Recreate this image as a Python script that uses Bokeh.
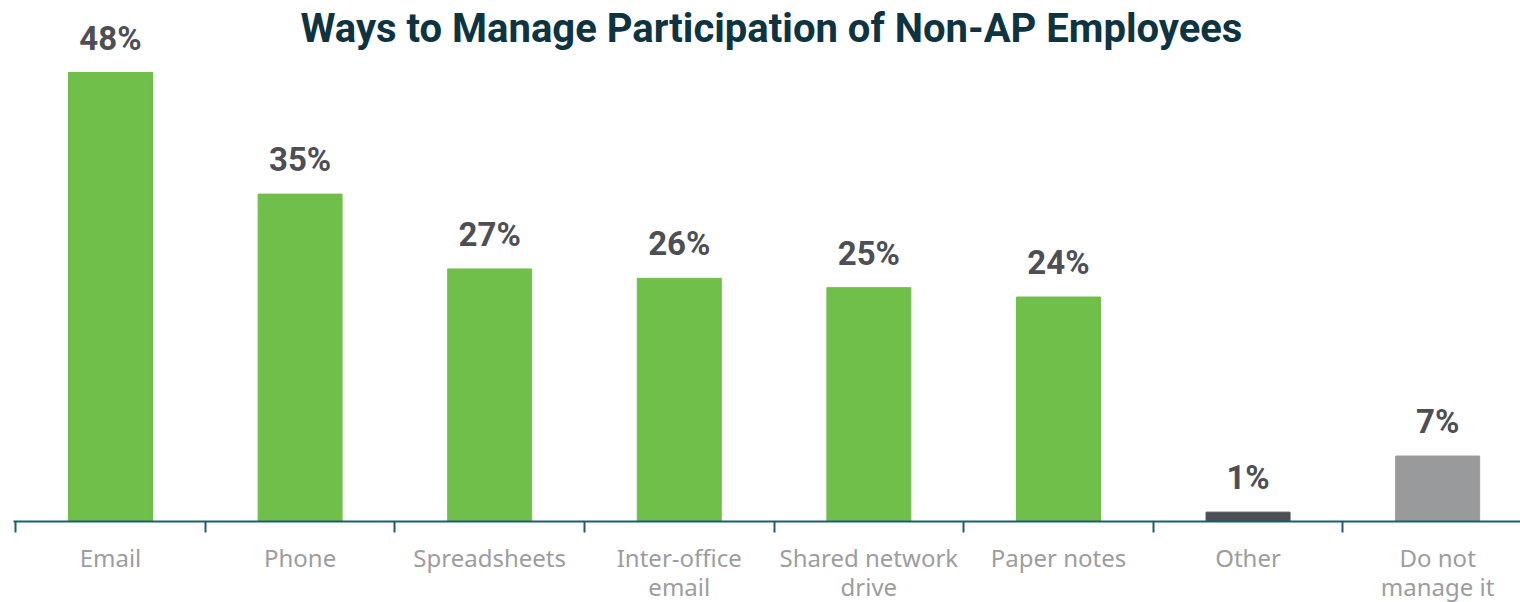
from bokeh.plotting import figure
from bokeh.models import ColumnDataSource, Range1d, FixedTicker, Label, LinearAxis
from bokeh.core.properties import value
from bokeh.embed import file_html
from bokeh.resources import INLINE

categories = ["Email", "Phone", "Spreadsheets", "Inter-office\nemail", "Shared network\ndrive",
              "Paper notes", "Other", "Do not\nmanage it"]
values = [48, 35, 27, 26, 25, 24, 1, 7]
colors = ["#70bf4a"] * 6 + ["#4d4f55", "#999a9c"]
labels = [f"{v}%" for v in values]

xs = [i + 0.5 for i in range(len(categories))]
src = ColumnDataSource(dict(x=xs, top=values, color=colors, label=labels))

p = figure(frame_width=1507, frame_height=521, output_backend="svg", toolbar_location=None,
           x_range=Range1d(-0.0116, 7.937), y_range=Range1d(0, 55.70),
           x_axis_type=None, y_axis_type=None,
           min_border_left=13, min_border_right=0, min_border_top=0, min_border_bottom=60)
p.outline_line_color = None
p.xgrid.visible = False
p.ygrid.visible = False
p.background_fill_color = "white"

p.vbar(x="x", top="top", bottom=0, width=0.443, color="color", source=src)
p.text(x="x", y="top", text="label", source=src, text_align="center", text_baseline="bottom",
       y_offset=-15, text_font=value("Roboto"), text_font_style="bold", text_font_size="33px",
       text_color="#4d4f55")

ax = LinearAxis(ticker=FixedTicker(ticks=xs, minor_ticks=list(range(len(categories) + 1))))
ax.major_label_overrides = {x: c for x, c in zip(xs, categories)}
ax.axis_line_color = "#1b5e70"
ax.axis_line_width = 2
ax.major_tick_line_color = None
ax.minor_tick_line_color = "#1b5e70"
ax.minor_tick_line_width = 2
ax.minor_tick_out = 11
ax.minor_tick_in = 0
ax.major_label_standoff = 8
ax.major_label_text_font = "Noto Sans"
ax.major_label_text_font_size = "24px"
ax.major_label_text_color = "#9d9d9d"
ax.major_label_text_line_height = 0.88
p.add_layout(ax, "below")

title = Label(x=3.986, y=52.7, text="Ways to Manage Participation of Non-AP Employees",
              text_align="center", text_baseline="middle", text_font="Roboto",
              text_font_style="bold", text_font_size="40px", text_color="#0d3440")
p.add_layout(title)

open("out.html", "w").write(file_html(p, INLINE))
